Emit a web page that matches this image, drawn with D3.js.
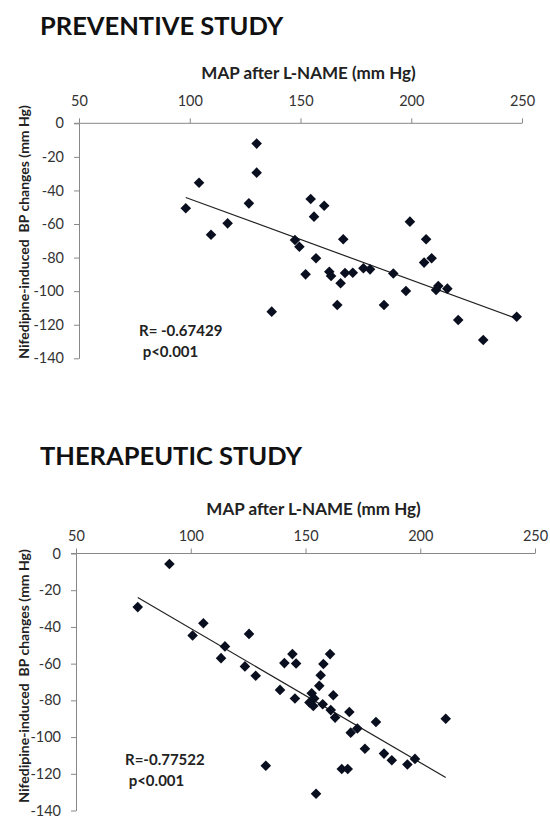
<!DOCTYPE html>
<meta charset="utf-8">
<title>Nifedipine vs MAP</title>
<style>
  body { margin: 0; background: #fff; }
  text { font-family: Lato, "Open Sans", sans-serif; }
</style>
<script src="https://d3js.org/d3.v7.min.js"></script>
<body>
<div id="chart"></div>
<script>

// x ticks / y ticks shared by both panels
var xTicks = [50, 100, 150, 200, 250];
var yTicks = [0, -20, -40, -60, -80, -100, -120, -140];

// preventive study: MAP after L-NAME and nifedipine induced BP change
var prevMap = [98.2, 104.2, 109.6, 117.1, 126.7, 130.2, 130.2, 137.0, 147.5, 149.5,
  154.6, 156.1, 160.7, 157.0, 152.3, 163.0, 163.8, 169.3, 168.1, 170.1,
  173.6, 166.6, 178.4, 181.4, 187.7, 191.9, 197.6, 199.4, 206.7, 205.8,
  209.2, 211.2, 212.2, 216.3, 221.2, 232.5, 247.6];
var prevBP = [-50.6, -35.4, -66.4, -59.6, -47.7, -12.1, -29.4, -112.2, -69.5, -73.5,
  -45.1, -55.6, -49.1, -80.4, -90.0, -88.4, -91.0, -69.1, -95.3, -89.2,
  -89.0, -108.2, -86.4, -87.0, -108.2, -89.5, -99.9, -58.6, -69.1, -83.0,
  -80.4, -99.3, -96.9, -98.5, -117.2, -129.1, -115.2];

// therapeutic study
var therMap = [76.9, 90.7, 100.8, 105.5, 113.2, 114.9, 123.6, 125.4, 128.3, 132.7,
  138.9, 140.8, 144.3, 145.9, 145.4, 160.7, 157.8, 156.6, 156.0, 152.7,
  153.8, 151.7, 153.4, 157.5, 162.1, 161.0, 162.9, 169.1, 172.6, 169.7,
  180.7, 175.9, 184.2, 187.6, 194.4, 197.7, 165.8, 168.4, 154.6, 211.1];
var therBP = [-29.2, -5.7, -44.7, -38.0, -57.0, -50.6, -61.5, -43.8, -66.6, -115.6,
  -74.3, -59.7, -54.8, -59.9, -79.0, -54.8, -60.2, -66.3, -72.1, -76.1,
  -79.0, -81.2, -83.1, -82.1, -77.2, -85.3, -89.4, -86.3, -95.3, -97.6,
  -91.8, -106.4, -109.0, -112.6, -114.9, -111.9, -117.4, -117.4, -130.9, -90.0];

var titles = ["PREVENTIVE STUDY", "THERAPEUTIC STUDY"];
var xTitle = "MAP after L-NAME (mm Hg)";
var yTitle = "Nifedipine-induced  BP changes (mm Hg)";
var rText = ["R= -0.67429", "R=-0.77522"];
var pText = [" p<0.001", " p<0.001"];

var W = 550, H = 821;
var svg = d3.select("#chart").append("svg")
  .attr("width", W).attr("height", H);

// layout for each panel (pixels)
var panels = [
  { x: prevMap, y: prevBP, left: 79, right: 522, top: 123.3, bottom: 358.3,
    titleY: 35, xTitleY: 79, labOff: 12, yTitleY: 232, rX: 139, rY: 336, pY: 357 },
  { x: therMap, y: therBP, left: 76, right: 535, top: 553.5, bottom: 810.5,
    titleY: 465, xTitleY: 515, labOff: 8, yTitleY: 676, rX: 125, rY: 765, pY: 786 }
];

panels.forEach(function(p, i) {

  var x = d3.scaleLinear().domain([50, 250]).range([p.left, p.right]);
  var y = d3.scaleLinear().domain([0, -140]).range([p.top, p.bottom]);

  // title
  svg.append("text")
    .attr("x", 40).attr("y", p.titleY)
    .attr("font-size", 25.5).attr("font-weight", "bold")
    .attr("fill", "#111")
    .text(titles[i]);

  // x axis on top
  var xa = svg.append("g")
    .attr("transform", "translate(0," + p.top + ")")
    .call(d3.axisTop(x).tickValues(xTicks).tickSize(5).tickSizeOuter(0)
      .tickPadding(p.labOff));
  // y axis
  var ya = svg.append("g")
    .attr("transform", "translate(" + p.left + ",0)")
    .call(d3.axisLeft(y).tickValues(yTicks).tickSize(5).tickSizeOuter(0)
      .tickPadding(10).tickFormat(function(d) { return String(d); }));

  [xa, ya].forEach(function(a) {
    a.select(".domain").attr("stroke", "#888");
    a.selectAll(".tick line").attr("stroke", "#888");
    a.selectAll(".tick text").attr("fill", "#333")
      .attr("font-size", 14.5).style("font-family", "Lato, sans-serif");
  });
  // extend x axis line left a bit like the crossing 0 tick
  xa.select(".domain").attr("d", "M" + (p.left - 5) + ",0H" + p.right);

  // axis titles
  svg.append("text")
    .attr("x", (p.left + p.right) / 2 + 8).attr("y", p.xTitleY)
    .attr("text-anchor", "middle")
    .attr("font-size", 17).attr("font-weight", "bold").attr("fill", "#222")
    .text(xTitle);

  svg.append("text")
    .attr("transform", "translate(29," + p.yTitleY + ") rotate(-90)")
    .attr("text-anchor", "middle")
    .attr("font-size", 14).attr("font-weight", "bold").attr("fill", "#222")
    .attr("xml:space", "preserve").style("white-space", "pre")
    .text(yTitle);

  // regression line
  var pts = p.x.map(function(v, k) { return [v, p.y[k]]; });
  var mx = d3.mean(p.x), my = d3.mean(p.y);
  var sxy = d3.sum(pts, function(d) { return (d[0] - mx) * (d[1] - my); });
  var sxx = d3.sum(pts, function(d) { return (d[0] - mx) * (d[0] - mx); });
  var slope = sxy / sxx, icpt = my - slope * mx;
  var ext = d3.extent(p.x);

  svg.append("line")
    .attr("x1", x(ext[0])).attr("y1", y(icpt + slope * ext[0]))
    .attr("x2", x(ext[1])).attr("y2", y(icpt + slope * ext[1]))
    .attr("stroke", "#222").attr("stroke-width", 1.2);

  // diamonds
  svg.append("g").selectAll("path")
    .data(pts)
    .join("path")
    .attr("d", d3.symbol().type(d3.symbolSquare).size(56))
    .attr("transform", function(d) {
      return "translate(" + x(d[0]) + "," + y(d[1]) + ") rotate(45)";
    })
    .attr("fill", "#0a0f1f");

  // stats
  svg.append("text")
    .attr("x", p.rX).attr("y", p.rY)
    .attr("font-size", 15).attr("font-weight", "bold").attr("fill", "#222")
    .text(rText[i]);
  svg.append("text")
    .attr("x", p.rX).attr("y", p.pY)
    .attr("font-size", 15).attr("font-weight", "bold").attr("fill", "#222")
    .attr("xml:space", "preserve").style("white-space", "pre")
    .text(pText[i]);
});

</script>
</body>
